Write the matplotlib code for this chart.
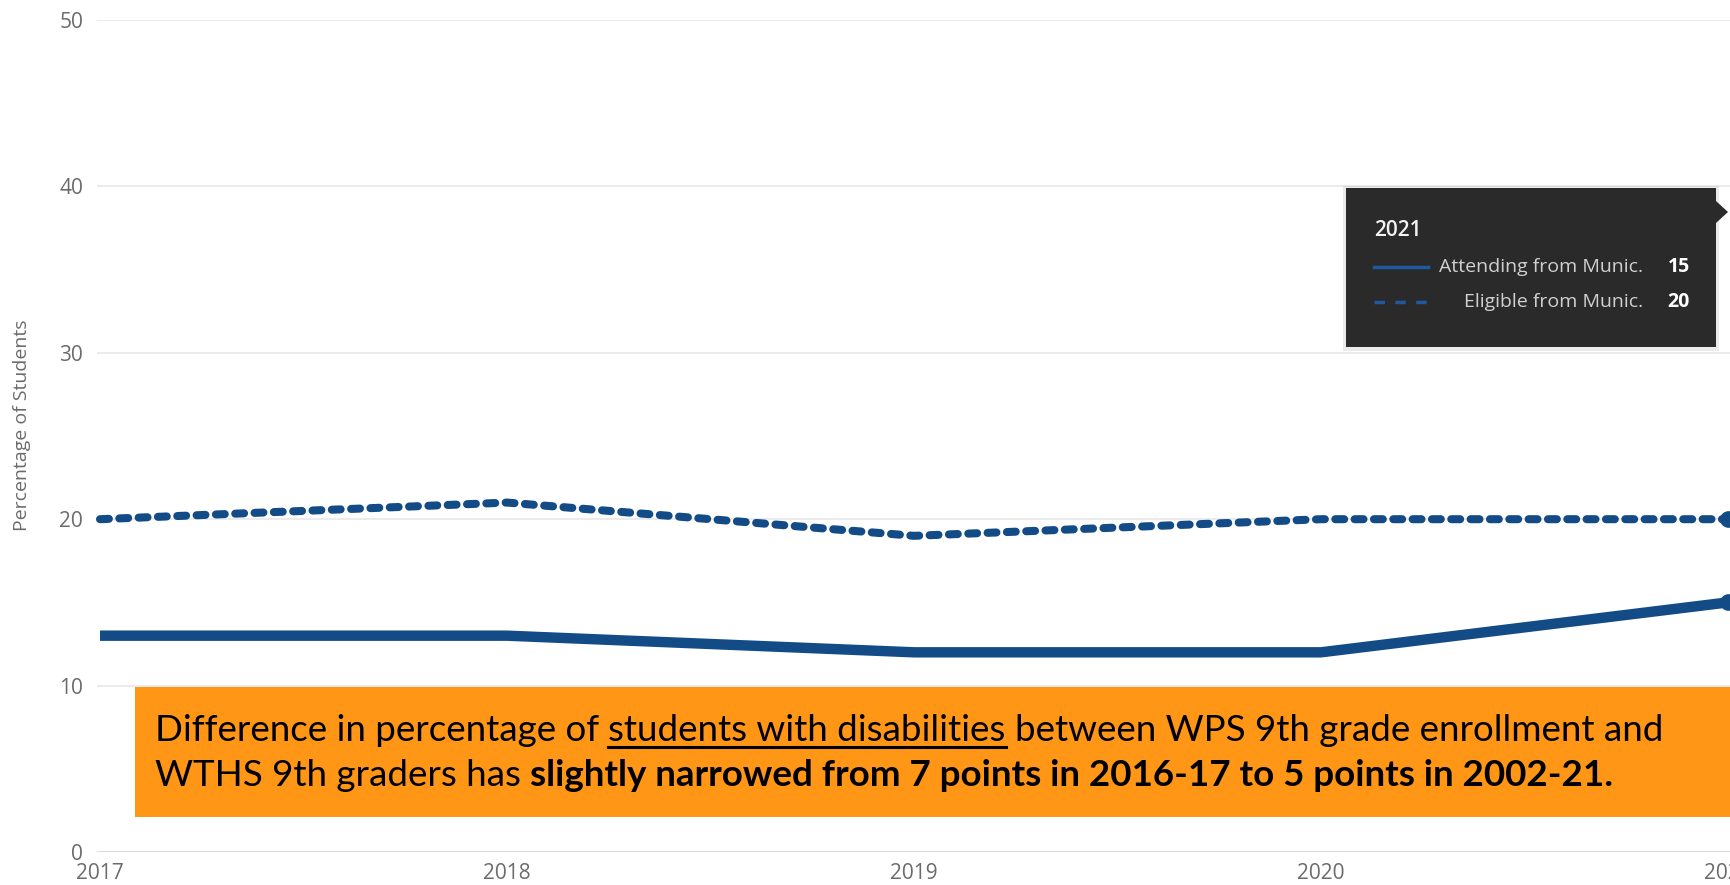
import matplotlib
matplotlib.use("Agg")
import matplotlib.pyplot as plt
from matplotlib.patches import Rectangle, Polygon
from matplotlib.lines import Line2D

years = [2017, 2018, 2019, 2020, 2021]
attending = [13, 13, 12, 12, 15]
eligible = [20, 21, 19, 20, 20]
yticks = [0, 10, 20, 30, 40, 50]
tooltip_year = "2021"
tooltip_labels = ["Attending from Munic.", "Eligible from Munic."]
tooltip_values = ["15", "20"]
line1_parts = ["Difference in percentage of", "students with disabilities",
               "between WPS 9th grade enrollment and"]
line2_parts = ["WTHS 9th graders has",
               "slightly narrowed from 7 points in 2016-17 to 5 points in 2002-21."]

W, H = 1731, 885
fig = plt.figure(figsize=(W / 100, H / 100), dpi=100)
fig.patch.set_facecolor("white")

BLUE = "#134b87"
GRAY = "#6b6b6b"

# main axes in pixel layout
left_px, right_px, top_px, bot_px = 97, 1731, 20, 852
ax = fig.add_axes([left_px / W, (H - bot_px) / H, (right_px - left_px) / W, (bot_px - top_px) / H])
step = 407.0
ax.set_xlim(2017 - 3 / step, 2021 + 3 / step)
ax.set_ylim(0, 50)
for s in ax.spines.values():
    s.set_visible(False)
ax.set_yticks(yticks)
ax.set_xticks(years)
ax.set_xticklabels([str(y) for y in years])
ax.tick_params(axis="both", length=0, labelcolor=GRAY, labelsize=15)
ax.tick_params(axis="y", pad=10)
ax.tick_params(axis="x", pad=8)
for lab in ax.get_xticklabels() + ax.get_yticklabels():
    lab.set_fontfamily("Open Sans")
ax.grid(axis="y", color="#e8e8e8", linewidth=1.2)
ax.grid(axis="x", visible=False)
ax.axhline(0, color="#d9d9d9", linewidth=2, zorder=1)
ax.set_axisbelow(True)

ax.plot(years, eligible, color=BLUE, linewidth=5.8, linestyle=(0, (1.1, 1.3)),
        dash_capstyle="round", solid_capstyle="round", marker="o", markevery=[4],
        markersize=11, zorder=3, clip_on=False)
ax.plot(years, attending, color=BLUE, linewidth=7.5, solid_capstyle="butt",
        solid_joinstyle="round", marker="o", markevery=[4], markersize=11,
        zorder=3, clip_on=False)

fig.text(22 / W, 1 - 425 / H, "Percentage of Students", rotation=90, ha="center",
         va="center", color=GRAY, fontsize=14, fontfamily="Open Sans")

# overlay in pixel coordinates
ov = fig.add_axes([0, 0, 1, 1], zorder=5)
ov.set_xlim(0, W)
ov.set_ylim(H, 0)
ov.axis("off")
ov.patch.set_alpha(0)

# tooltip
ov.add_patch(Rectangle((1343, 186), 376, 165, facecolor="#000000", alpha=0.08, edgecolor="none"))
ov.add_patch(Rectangle((1346, 188), 370, 159, facecolor="#2a2a2a", edgecolor="none"))
ov.add_patch(Polygon([(1716, 201), (1728, 212), (1716, 223)], closed=True,
                     facecolor="#2a2a2a", edgecolor="none"))
ov.text(1374, 231, tooltip_year, color="#f2f2f2", fontsize=15, fontweight="semibold",
        fontfamily="Open Sans", ha="left", va="center")
row_y = [267, 302]
ov.add_line(Line2D([1374, 1428], [row_y[0], row_y[0]], color="#1f5aa0", linewidth=2.5))
ov.add_line(Line2D([1374, 1428], [row_y[1], row_y[1]], color="#1f5aa0", linewidth=2.5,
                   linestyle=(0, (3, 3))))
for yy, lab, val in zip(row_y, tooltip_labels, tooltip_values):
    ov.text(1643, yy, lab, color="#d0d0d0", fontsize=14, fontfamily="Open Sans",
            ha="right", va="center")
    ov.text(1690, yy, val, color="#ffffff", fontsize=14, fontweight="bold",
            fontfamily="Open Sans", ha="right", va="center")

# orange annotation box
ov.add_patch(Rectangle((135, 687), W - 135, 130, facecolor="#ff9615", edgecolor="none"))

renderer = fig.canvas.get_renderer()
FS = 26.5


def width_of(s, weight):
    t = ov.text(0, 0, s, fontsize=FS, fontfamily="Lato", fontweight=weight)
    w = t.get_window_extent(renderer).width
    t.remove()
    return w


space_w = width_of("x x", "normal") - width_of("xx", "normal")


def draw_parts(x0, y, parts):
    x = x0
    for s, weight, underline in parts:
        t = ov.text(x, y, s, fontsize=FS, fontfamily="Lato", fontweight=weight,
                    color="black", ha="left", va="baseline")
        bb = t.get_window_extent(renderer)
        if underline:
            ov.add_line(Line2D([x, x + bb.width], [y + 6, y + 6], color="black", linewidth=2.2))
        x = x + bb.width + space_w


draw_parts(155, 741, [(line1_parts[0], "normal", False),
                      (line1_parts[1], "normal", True),
                      (line1_parts[2], "normal", False)])
draw_parts(155, 786, [(line2_parts[0], "normal", False),
                      (line2_parts[1], "bold", False)])

fig.savefig("out.png", dpi=100)
